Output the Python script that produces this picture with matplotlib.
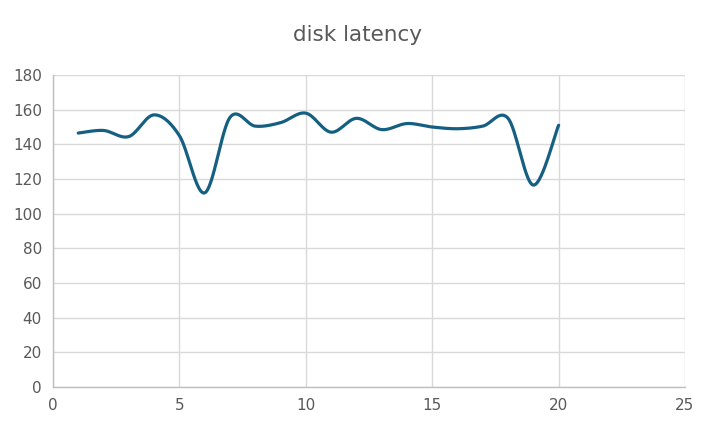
import numpy as np
import matplotlib
matplotlib.use("Agg")
import matplotlib.pyplot as plt

x_vals = [1, 2, 3, 4, 5, 6, 7, 8, 9, 10, 11, 12, 13, 14, 15, 16, 17, 18, 19, 20]
latency = [146.5, 148, 144.5, 157, 145, 112, 155.5, 150.5, 152.5, 158, 147, 155, 148.5, 152, 150, 149, 150.5, 155, 116.5, 151]
title = "disk latency"
x_ticks = [0, 5, 10, 15, 20, 25]
y_ticks = [0, 20, 40, 60, 80, 100, 120, 140, 160, 180]


def smooth(xs, ys, n=30):
    xs = np.asarray(xs, float)
    ys = np.asarray(ys, float)
    px = np.concatenate([[xs[0]], xs, [xs[-1]]])
    py = np.concatenate([[ys[0]], ys, [ys[-1]]])
    ox, oy = [], []
    for i in range(1, len(px) - 2):
        p0 = np.array([px[i], py[i]])
        p3 = np.array([px[i + 1], py[i + 1]])
        c1 = p0 + (np.array([px[i + 1], py[i + 1]]) - np.array([px[i - 1], py[i - 1]])) / 6
        c2 = p3 - (np.array([px[i + 2], py[i + 2]]) - np.array([px[i], py[i]])) / 6
        t = np.linspace(0, 1, n)[:, None]
        pts = (1 - t) ** 3 * p0 + 3 * (1 - t) ** 2 * t * c1 + 3 * (1 - t) * t ** 2 * c2 + t ** 3 * p3
        ox.extend(pts[:, 0])
        oy.extend(pts[:, 1])
    return ox, oy


fig = plt.figure(figsize=(7.15, 4.3), dpi=100)
ax = fig.add_axes([53 / 715, 1 - 387 / 430, (685 - 53) / 715, (387 - 75) / 430])

sx, sy = smooth(x_vals, latency)
ax.plot(sx, sy, color="#156082", lw=2.3, solid_capstyle="round", zorder=3)

ax.set_xlim(0, 25)
ax.set_ylim(0, 180)
ax.set_xticks(x_ticks)
ax.set_yticks(y_ticks)
ax.grid(True, color="#d9d9d9", lw=1)
ax.set_axisbelow(True)
for s in ["top", "right"]:
    ax.spines[s].set_visible(False)
for s in ["left", "bottom"]:
    ax.spines[s].set_color("#bfbfbf")
    ax.spines[s].set_linewidth(1)
ax.tick_params(length=0, labelsize=11, colors="#595959", pad=8)

fig.text(0.5, 1 - 35 / 430, title, ha="center", va="center", fontsize=15.5, color="#595959")

fig.savefig("out.png", dpi=100)
